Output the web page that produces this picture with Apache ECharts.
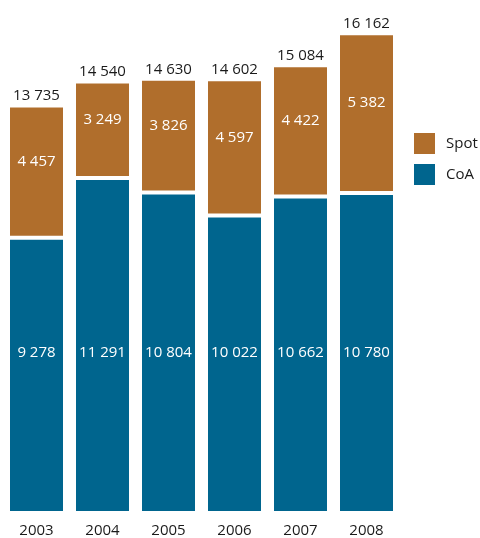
<!DOCTYPE html>
<html><head><meta charset="utf-8">
<script src="https://cdn.jsdelivr.net/npm/echarts@6/dist/echarts.min.js"></script>
<style>html,body{margin:0;padding:0;background:#fff}#c{width:480px;height:538px}</style>
</head><body><div id="c"></div>
<script>
var years = ['2003','2004','2005','2006','2007','2008'];
var coa = [9278, 11291, 10804, 10022, 10662, 10780];
var spot = [4457, 3249, 3826, 4597, 4422, 5382];
var totals = [13735, 14540, 14630, 14602, 15084, 16162];
function fmt(v){return String(v).replace(/\B(?=(\d{3})+(?!\d))/g,' ');}
var FONT = '"Open Sans", "Noto Sans", sans-serif';
var chart = echarts.init(document.getElementById('c'));
chart.setOption({
  animation:false,
  textStyle:{fontFamily:FONT},
  legend:{orient:'vertical',left:412,top:131,padding:0,itemWidth:23,itemHeight:23,itemGap:6,
    data:['Spot','CoA'],textStyle:{fontSize:15,color:'#1a1a1a',fontFamily:FONT,padding:[0,0,0,5]},icon:'rect'},
  grid:{left:3.5,width:396,top:8.5,bottom:24},
  xAxis:{type:'category',data:years,axisLine:{show:false},axisTick:{show:false},
    axisLabel:{margin:10,fontSize:15,color:'#1a1a1a',fontFamily:FONT}},
  yAxis:{type:'value',min:0,max:17000,show:false,splitLine:{show:false}},
  series:[
    {name:'CoA',type:'bar',stack:'t',data:coa,barWidth:57,
     itemStyle:{color:'#00658e',borderColor:'#fff',borderWidth:2},
     label:{show:true,position:'insideBottom',distance:153,color:'#fff',fontSize:15,fontFamily:FONT,formatter:function(p){return fmt(p.value);}}},
    {name:'Spot',type:'bar',stack:'t',data:spot,barWidth:57,
     itemStyle:{color:'#b06e2c',borderColor:'#fff',borderWidth:2},
     label:{show:true,position:'inside',offset:[0,-10],color:'#fff',fontSize:15,fontFamily:FONT,formatter:function(p){return fmt(p.value);}}},
    {name:'Total',type:'bar',stack:'t',data:totals.map(function(){return 0;}),barWidth:57,
     itemStyle:{color:'transparent'},
     label:{show:true,position:'top',distance:2,color:'#1a1a1a',fontSize:15,fontFamily:FONT,
       formatter:function(p){return fmt(totals[p.dataIndex]);}}}
  ]
});
</script></body></html>
